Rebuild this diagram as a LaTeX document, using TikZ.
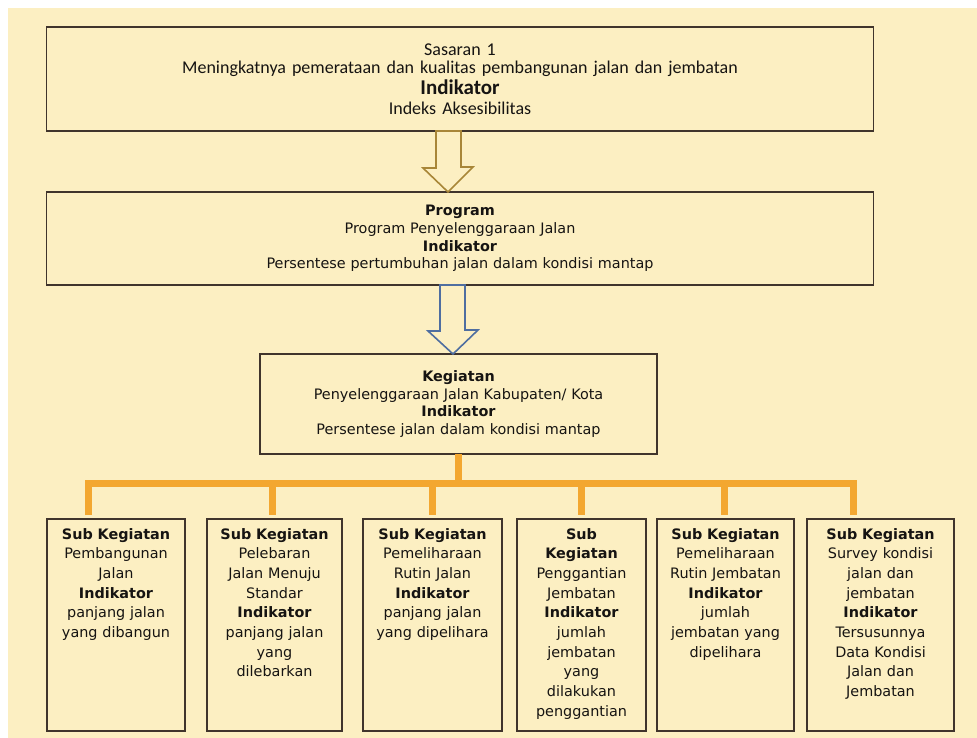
\documentclass[tikz,border=0pt]{standalone}
\usepackage{xcolor}
\usepackage{fontspec}
\setmainfont{DejaVu Sans}
\newfontfamily\calibri{Carlito}
\usetikzlibrary{positioning}

\definecolor{bgyellow}{RGB}{252,239,194}
\definecolor{boxline}{RGB}{64,52,44}
\definecolor{textdark}{RGB}{22,20,18}
\definecolor{linkorange}{RGB}{243,167,48}
\definecolor{goldline}{RGB}{168,134,56}
\definecolor{blueline}{RGB}{79,110,160}

\begin{document}
\begin{tikzpicture}[
  x=1pt, y=1pt,
  node distance=20pt and 15pt,
  goalbox/.style={
    draw=boxline,
    line width=1.6pt,
    align=center,
    outer sep=0pt,
    text=textdark
  },
  progbox/.style={
    goalbox,
    font=\fontsize{14.4}{17.8}\selectfont
  },
  subbox/.style={
    goalbox,
    font=\fontsize{14.4}{19.7}\selectfont,
    inner xsep=3pt,
    inner ysep=9pt,
    text height=11pt,
    text depth=183pt
  },
  conn/.style={draw=linkorange, line width=7pt},
  hollow/.style={line width=1.6pt, fill=bgyellow, line join=miter}
]
\useasboundingbox (0,0) rectangle (977,-738);
\fill[bgyellow] (8,-8) rectangle (977,-738);

\node[goalbox, font=\calibri\fontsize{18}{20}\selectfont, text width=820pt,
  minimum width=826pt, minimum height=104pt] (sasaran) at (460,-79)
{Sasaran 1\\[-2pt]
Meningkatnya pemerataan dan kualitas pembangunan jalan dan jembatan\\[1pt]
{\fontsize{21}{20}\selectfont\bfseries Indikator}\\
Indeks Aksesibilitas};
\node[progbox, text width=820pt, minimum width=826pt, minimum height=93pt,
  below=61pt of sasaran] (program)
{\textbf{Program}\\
Program Penyelenggaraan Jalan\\
\textbf{Indikator}\\
Persentese pertumbuhan jalan dalam kondisi mantap};
\node[progbox, text width=390pt, minimum width=397pt, minimum height=100pt,
  below=69pt of program, xshift=-1.5pt] (kegiatan)
{\textbf{Kegiatan}\\
Penyelenggaraan Jalan Kabupaten/ Kota\\
\textbf{Indikator}\\
Persentese jalan dalam kondisi mantap};

\node[subbox, text width=132pt] (sub1) at (116,-625)
{\textbf{Sub Kegiatan}\\ Pembangunan\\ Jalan\\ \textbf{Indikator}\\
panjang jalan\\ yang dibangun};
\node[subbox, text width=129pt, right=22pt of sub1] (sub2)
{\textbf{Sub Kegiatan}\\ Pelebaran\\ Jalan Menuju\\ Standar\\ \textbf{Indikator}\\
panjang jalan\\ yang\\ dilebarkan};
\node[subbox, text width=133pt, right=21pt of sub2] (sub3)
{\textbf{Sub Kegiatan}\\ Pemeliharaan\\ Rutin Jalan\\ \textbf{Indikator}\\
panjang jalan\\ yang dipelihara};
\node[subbox, text width=123pt, right=15pt of sub3] (sub4)
{\textbf{Sub}\\ \textbf{Kegiatan}\\ Penggantian\\ Jembatan\\ \textbf{Indikator}\\
jumlah\\ jembatan\\ yang\\ dilakukan\\ penggantian};
\node[subbox, text width=131pt, right=11pt of sub4] (sub5)
{\textbf{Sub Kegiatan}\\ Pemeliharaan\\ Rutin Jembatan\\ \textbf{Indikator}\\
jumlah\\ jembatan yang\\ dipelihara};
\node[subbox, text width=141pt, right=13pt of sub5] (sub6)
{\textbf{Sub Kegiatan}\\ Survey kondisi\\ jalan dan\\ jembatan\\ \textbf{Indikator}\\
Tersusunnya\\ Data Kondisi\\ Jalan dan\\ Jembatan};

% hollow block arrows between the upper boxes
\draw[hollow, draw=goldline] ([xshift=-24pt]sasaran.south) -- ++(0,-37) -- ++(-13,0)
  -- ([xshift=-12pt]program.north) -- ++(25,25) -- ++(-12,0)
  -- ([xshift=1pt]sasaran.south) -- cycle;
\draw[hollow, draw=blueline] ([xshift=-20pt]program.south) -- ++(0,-46) -- ++(-12,0)
  -- ([xshift=-5.5pt]kegiatan.north) -- ++(25,24) -- ++(-13,0)
  -- ([xshift=5pt]program.south) -- cycle;

% orange tree to the sub activities
\coordinate (bar) at (0,-483);
\draw[conn] (kegiatan.south) -- (kegiatan.south |- bar);
\draw[conn, line join=miter, shorten <=4pt, shorten >=4pt]
  ([xshift=-28pt]sub1.north) -- ([xshift=-28pt]sub1.north |- bar)
  -- ([xshift=-27pt]sub6.north |- bar) -- ([xshift=-27pt]sub6.north);
\draw[conn, shorten >=4pt] ([xshift=-2pt]sub2.north |- bar) -- ([xshift=-2pt]sub2.north);
\draw[conn, shorten >=4pt] (sub3.north |- bar) -- (sub3.north);
\draw[conn, shorten >=4pt] (sub4.north |- bar) -- (sub4.north);
\draw[conn, shorten >=4pt] ([xshift=-1pt]sub5.north |- bar) -- ([xshift=-1pt]sub5.north);
\end{tikzpicture}
\end{document}
